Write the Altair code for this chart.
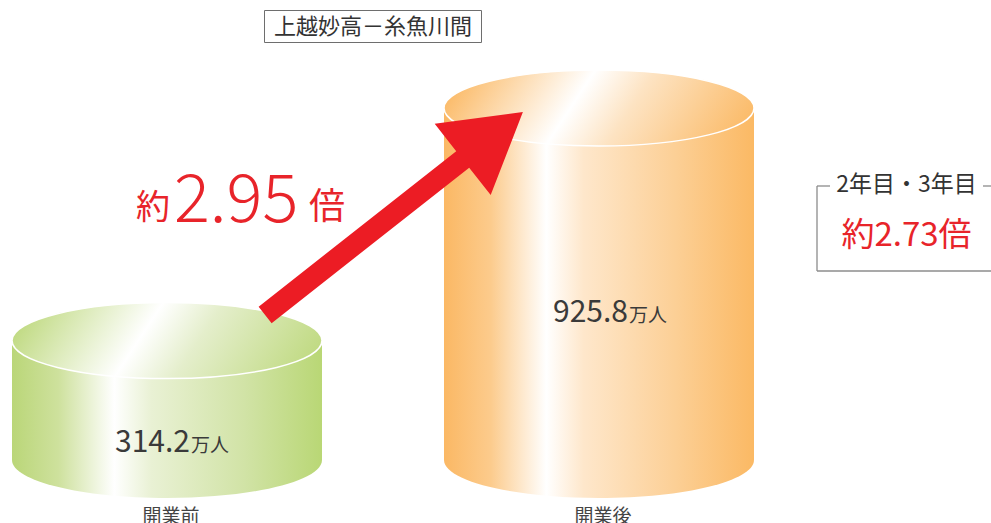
import altair as alt
import pandas as pd

# ---- data -------------------------------------------------------------
categories = ["開業前", "開業後"]
visitors = [314.2, 925.8]
unit_label = "万人"
route_title = "上越妙高－糸魚川間"
ratio_main = ["約", "2.95", "倍"]
ratio_side_head = "2年目・3年目"
ratio_side = "約2.73倍"

FONT = "Noto Sans CJK JP"
RED = "#e8242a"
TXT = "#3a3a3a"

df = pd.DataFrame({"cat": categories, "value": visitors})
one = pd.DataFrame({"k": [0]})

W, H = 742, 460
xs = alt.Scale(domain=categories, paddingInner=0.2824, paddingOuter=0)
ys = alt.Scale(domain=[0, 1210], nice=False, zero=True)
X = alt.X("cat:N", sort=categories, scale=xs,
          axis=alt.Axis(title=None, domain=False, ticks=False, grid=False,
                        labelAngle=0, labelFontSize=19, labelColor="#444444",
                        labelPadding=47, labelBaseline="top", labelFont=FONT,
                        labelOffset=4))
Y = alt.Y("value:Q", scale=ys, axis=None)
Y0 = alt.Y("zero:Q", scale=ys, axis=None)

ELLIPSE = "M -1 0 A 1 0.245 0 1 0 1 0 A 1 0.245 0 1 0 -1 0 Z"
ELL_SIZE = 310 ** 2
ARROW = ("M -1 -0.064 L 0.533 -0.064 L 0.533 -0.276 L 1 0 "
         "L 0.533 0.276 L 0.533 0.064 L -1 0.064 Z")


def grad(stops, x1=0, y1=0, x2=1, y2=0):
    return alt.LinearGradient(
        gradient="linear",
        stops=[alt.GradientStop(color=c, offset=o) for o, c in stops],
        x1=x1, y1=y1, x2=x2, y2=y2)


def cylinder(cat, side_stops, top_stops, label_dx, label_dy):
    base = alt.Chart(df).transform_filter(alt.datum.cat == cat).transform_calculate(zero="0")
    bottom = base.mark_point(shape=ELLIPSE, size=ELL_SIZE, filled=True,
                             fill=grad(side_stops), opacity=1, strokeWidth=0
                             ).encode(x=X, y=Y0)
    body = base.mark_bar(fill=grad(side_stops)).encode(x=X, y=Y)
    top = base.mark_point(shape=ELLIPSE, size=ELL_SIZE, filled=True,
                          fill=grad(top_stops, 0, 0.42, 1, 0.58), opacity=1,
                          stroke="white", strokeWidth=1.5).encode(x=X, y=Y)
    num = base.mark_text(font=FONT, fontSize=30, align="right", baseline="alphabetic",
                         dx=label_dx, dy=label_dy, color=TXT
                         ).encode(x=X, y=Y, text=alt.Text("value:Q", format=".1f"))
    unit = base.mark_text(font=FONT, fontSize=19, align="left", baseline="alphabetic",
                          dx=label_dx + 1, dy=label_dy, color=TXT
                          ).encode(x=X, y=Y, text=alt.value(unit_label))
    return [bottom, body, top, num, unit]


green_side = [(0, "#bad678"), (0.15, "#cee19d"), (0.33, "#ffffff"),
              (0.45, "#e9f1d4"), (0.75, "#d1e3a6"), (1, "#b9d775")]
green_top = [(0, "#c0da82"), (0.41, "#ffffff"), (0.6, "#e4eecb"), (1, "#c0da82")]
orange_side = [(0, "#fbb864"), (0.15, "#fccb8c"), (0.33, "#ffffff"),
               (0.45, "#fee7cb"), (0.75, "#fccf95"), (1, "#fbb964")]
orange_top = [(0, "#fbbb69"), (0.41, "#ffffff"), (0.6, "#fde3c2"), (1, "#fbbb69")]

layers = []
layers += cylinder(categories[0], green_side, green_top, 23, 111)
layers += cylinder(categories[1], orange_side, orange_top, 29, 214)

ann = alt.Chart(one)
arrow = ann.mark_point(shape=ARROW, size=328 ** 2, angle=321.8, filled=True,
                       fill="#ec1c24", opacity=1, strokeWidth=0
                       ).encode(x=alt.value(382), y=alt.value(213.5))

title_box = ann.mark_rect(fill="white", stroke="#6e6e6e", strokeWidth=1).encode(
    x=alt.value(252.5), x2=alt.value(469.5), y=alt.value(10.5), y2=alt.value(42.5))
title_txt = ann.mark_text(font=FONT, fontSize=22, color="#333333", align="center",
                          baseline="middle").encode(
    x=alt.value(361), y=alt.value(27), text=alt.value(route_title))

r1 = ann.mark_text(font=FONT, fontSize=34, color=RED, align="left", baseline="alphabetic"
                   ).encode(x=alt.value(124), y=alt.value(219), text=alt.value(ratio_main[0]))
r2 = ann.mark_text(font=FONT, fontSize=67, fontWeight=300, color=RED, align="left",
                   baseline="alphabetic"
                   ).encode(x=alt.value(162), y=alt.value(222), text=alt.value(ratio_main[1]))
r3 = ann.mark_text(font=FONT, fontSize=36, color=RED, align="left", baseline="alphabetic"
                   ).encode(x=alt.value(297), y=alt.value(219), text=alt.value(ratio_main[2]))

GRAY = "#8c8c8c"
b1 = ann.mark_rule(color=GRAY, strokeWidth=1.3).encode(
    x=alt.value(805), y=alt.value(186), y2=alt.value(271))
b2 = ann.mark_rule(color=GRAY, strokeWidth=1.3).encode(
    x=alt.value(805), x2=alt.value(980), y=alt.value(271))
b3 = ann.mark_rule(color=GRAY, strokeWidth=1.3).encode(
    x=alt.value(805), x2=alt.value(818), y=alt.value(186))
b4 = ann.mark_rule(color=GRAY, strokeWidth=1.3).encode(
    x=alt.value(971), x2=alt.value(980), y=alt.value(186))
side_head = ann.mark_text(font=FONT, fontSize=23, color="#333333", align="center",
                          baseline="middle").encode(
    x=alt.value(894.5), y=alt.value(185), text=alt.value(ratio_side_head))
side_val = ann.mark_text(font=FONT, fontSize=33, color=RED, align="center",
                         baseline="alphabetic").encode(
    x=alt.value(894.5), y=alt.value(246), text=alt.value(ratio_side))

chart = alt.layer(*layers, arrow, title_box, title_txt, r1, r2, r3,
                  b1, b2, b3, b4, side_head, side_val).properties(
    width=W, height=H,
    autosize=alt.AutoSizeParams(type="none"),
    padding={"left": 12, "top": 0, "right": 237, "bottom": 63},
    background="white",
).configure_view(stroke=None)

chart.save("out.html", embed_options={"renderer": "svg", "actions": False})
